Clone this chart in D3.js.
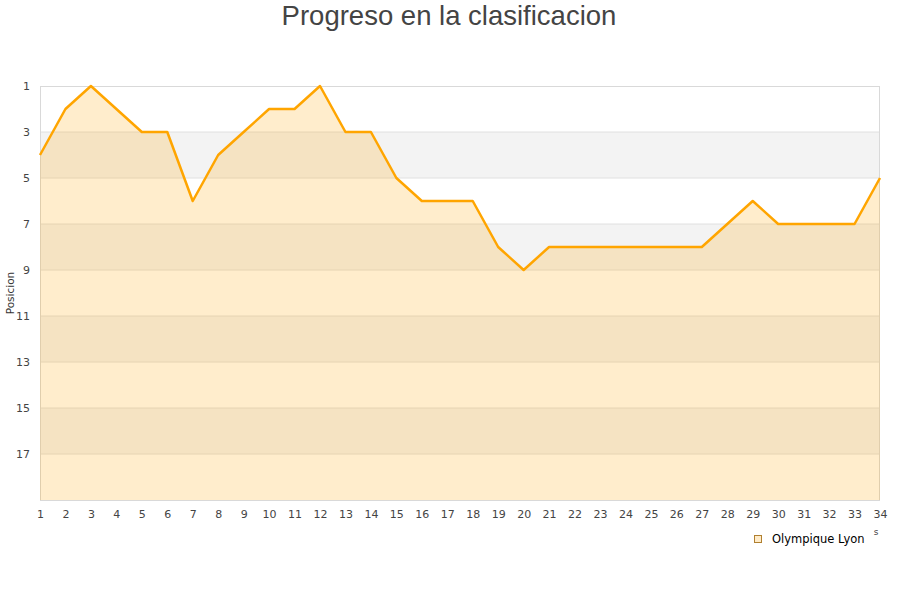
<!DOCTYPE html>
<html><head><meta charset="utf-8">
<script src="https://cdnjs.cloudflare.com/ajax/libs/d3/7.8.5/d3.min.js"></script>
<style>body{margin:0;background:#fff}svg{display:block}</style>
</head><body>
<svg id="c" width="900" height="600"></svg>
<script>
const jornadas = d3.range(1, 35);
const posiciones = [4,2,1,2,3,3,6,4,3,2,2,1,3,3,5,6,6,6,8,9,8,8,8,8,8,8,8,7,6,7,7,7,7,5];
const yTicks = [1,3,5,7,9,11,13,15,17];
const bandStarts = [3,7,11,15];
const teamName = "Olympique Lyon";
const title = "Progreso en la clasificacion";
const yTitle = "Posicion";

const svg = d3.select("#c");
const m = {l:40, r:20, t:86, b:100};
const W = 900, H = 600;
const x = d3.scaleLinear().domain([1,34]).range([m.l, W - m.r]);
const y = d3.scaleLinear().domain([1,19]).range([m.t, H - m.b]);

svg.selectAll("rect.band").data(bandStarts).enter().append("rect")
  .attr("x", x(1)).attr("width", x(34)-x(1))
  .attr("y", d => y(d)).attr("height", d => y(d+2)-y(d))
  .attr("fill", "#f3f3f3");
svg.selectAll("line.grid").data(yTicks.slice(1)).enter().append("line")
  .attr("x1", x(1)).attr("x2", x(34))
  .attr("y1", d => y(d)).attr("y2", d => y(d))
  .attr("stroke", "#e0e0e0").attr("stroke-width", 1);
svg.append("rect").attr("x", x(1)+0.5).attr("y", y(1)+0.5)
  .attr("width", x(34)-x(1)-1).attr("height", y(19)-y(1))
  .attr("fill", "none").attr("stroke", "#d9d9d9");

const area = d3.area().x((d,i)=>x(jornadas[i])).y0(y(19)).y1(d=>y(d));
svg.append("path").datum(posiciones).attr("d", area)
  .attr("fill", "#FFA500").attr("fill-opacity", 0.2);
const line = d3.line().x((d,i)=>x(jornadas[i])).y(d=>y(d));
svg.append("path").datum(posiciones).attr("d", line)
  .attr("fill", "none").attr("stroke", "#FFA500").attr("stroke-width", 2.5)
  .attr("stroke-linejoin", "round");

const fontF = "DejaVu Sans, sans-serif";
const yAxis = svg.append("g").attr("transform", `translate(${x(1)},0)`)
  .call(d3.axisLeft(y).tickValues(yTicks).tickSize(0).tickPadding(10));
yAxis.select(".domain").remove();
yAxis.selectAll("text").attr("font-family", fontF).attr("font-size", 11).attr("fill", "#444");

const xAxis = svg.append("g").attr("transform", `translate(0,${y(19)})`)
  .call(d3.axisBottom(x).tickValues(jornadas).tickFormat(d3.format("d")).tickSize(0).tickPadding(10));
xAxis.select(".domain").remove();
xAxis.selectAll("text").attr("font-family", fontF).attr("font-size", 11).attr("fill", "#444");

svg.append("text").attr("x", 449).attr("y", 25).attr("text-anchor", "middle")
  .attr("font-family", "Liberation Sans, Arial, sans-serif").attr("font-size", 27.5)
  .attr("fill", "#444").text(title);

svg.append("text").attr("transform", `translate(14,${(y(1)+y(19))/2}) rotate(-90)`)
  .attr("text-anchor", "middle").attr("font-family", fontF).attr("font-size", 10.5)
  .attr("fill", "#333").text(yTitle);

svg.append("text").attr("x", 876).attr("y", 535).attr("text-anchor", "middle")
  .attr("font-family", fontF).attr("font-size", 9).attr("fill", "#444").text("s");

const lg = svg.append("g").attr("transform", "translate(754,535)");
lg.append("rect").attr("x", 0.5).attr("y", 0.5).attr("width", 7).attr("height", 7)
  .attr("fill", "#FFEBC8").attr("stroke", "#b08030");
lg.append("text").attr("x", 18).attr("y", 8).attr("font-family", fontF)
  .attr("font-size", 11.5).attr("fill", "#000").text(teamName);
</script>
</body></html>
